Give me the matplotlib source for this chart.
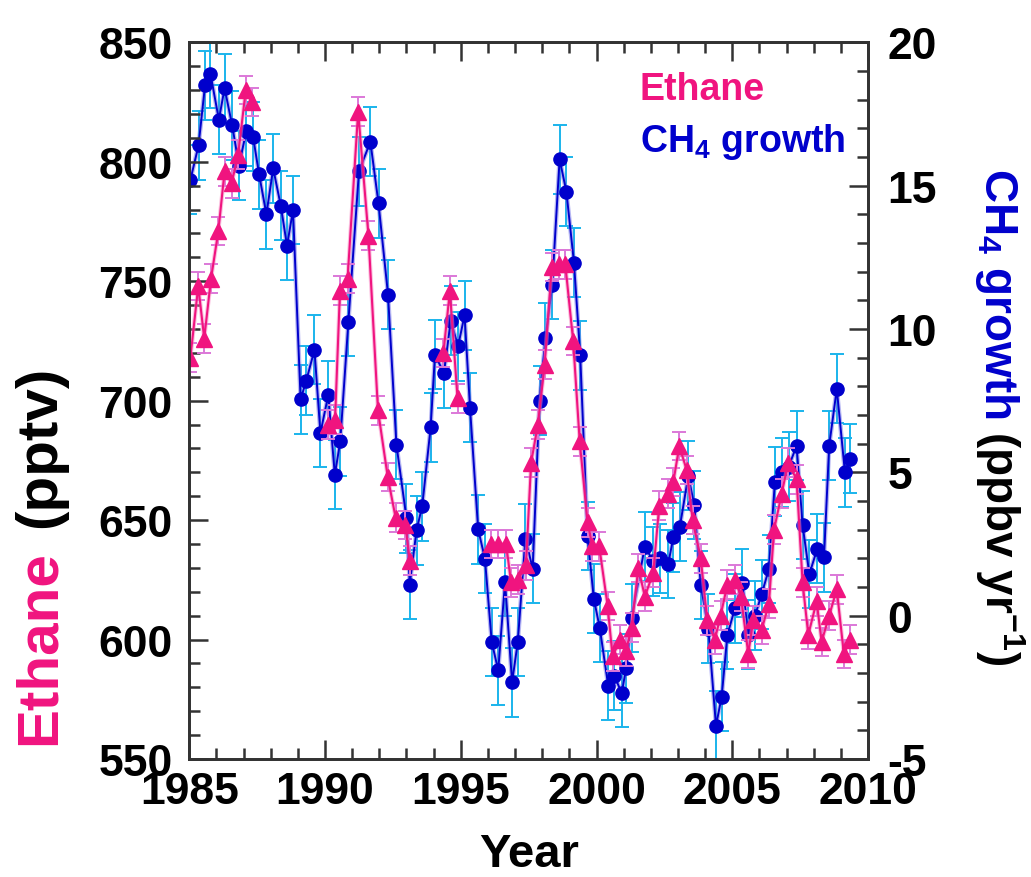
import numpy as np
import matplotlib.pyplot as plt
from matplotlib.ticker import MultipleLocator

plt.rcParams['font.family'] = ['Liberation Sans', 'DejaVu Sans']
plt.rcParams['font.weight'] = 'bold'
plt.rcParams['mathtext.fontset'] = 'custom'
plt.rcParams['mathtext.rm'] = 'Liberation Sans:bold'
plt.rcParams['mathtext.bf'] = 'Liberation Sans:bold'
plt.rcParams['axes.unicode_minus'] = False

# ethane (pptv), nan = gap in the record
eth_year = [1985.04, 1985.33, 1985.55, 1985.80, 1986.07, 1986.30, 1986.56, 1986.80,
            1987.08, 1987.30, 1988.70,
            1990.12, 1990.37, 1990.55, 1990.83, 1991.22, 1991.60, 1991.95, 1992.31,
            1992.60, 1992.96, 1993.12, 1993.70,
            1994.36, 1994.60, 1994.88, 1995.50,
            1996.11, 1996.36, 1996.67, 1996.85, 1997.10, 1997.40, 1997.59, 1997.84,
            1998.09, 1998.35, 1998.60, 1998.85, 1999.14, 1999.38, 1999.67, 1999.85,
            2000.10, 2000.41, 2000.59, 2000.88, 2001.08, 2001.29, 2001.54, 2001.78,
            2002.09, 2002.31, 2002.62, 2002.83, 2003.05, 2003.32, 2003.54, 2003.84,
            2004.08, 2004.36, 2004.57, 2004.82, 2005.10, 2005.32, 2005.59, 2005.77,
            2006.08, 2006.35, 2006.54, 2006.82, 2007.06, 2007.37, 2007.59, 2007.80,
            2008.11, 2008.29, 2008.57, 2008.85, 2009.11, 2009.34]
eth_pptv = [718, 748, 726, 751, 771, 796, 791, 803,
            830, 825, np.nan,
            690, 692, 746, 751, 821, 769, 696, 668,
            651, 648, 633, np.nan,
            720, 746, 701, np.nan,
            640, 640, 640, 624, 625, 631, 674, 690,
            715, 756, 757, 757, 725, 683, 649, 639,
            639, 614, 593, 600, 595, 605, 630, 618,
            628, 656, 661, 666, 681, 671, 650, 634,
            608, 600, 610, 623, 625, 618, 594, 608,
            604, 615, 646, 661, 674, 667, 624, 602,
            616, 599, 610, 621, 594, 600]
eth_err = 6.0

# CH4 growth rate (ppbv/yr)
ch4_year = [1985.04, 1985.34, 1985.58, 1985.78, 1986.09, 1986.30, 1986.58, 1986.83,
            1987.10, 1987.35, 1987.57, 1987.84, 1988.09, 1988.37, 1988.60, 1988.82,
            1989.10, 1989.31, 1989.61, 1989.83, 1990.12, 1990.36, 1990.56, 1990.86,
            1991.25, 1991.67, 1991.97, 1992.32, 1992.63, 1993.00, 1993.12, 1993.37,
            1993.58, 1993.89, 1994.05, 1994.38, 1994.63, 1994.90, 1995.14, 1995.34,
            1995.64, 1995.89, 1996.14, 1996.38, 1996.63, 1996.89, 1997.10, 1997.38,
            1997.65, 1997.90, 1998.12, 1998.37, 1998.64, 1998.89, 1999.17, 1999.40,
            1999.67, 1999.90, 2000.12, 2000.43, 2000.65, 2000.93, 2001.09, 2001.29,
            2001.78, 2002.09, 2002.34, 2002.64, 2002.83, 2003.07, 2003.38, 2003.60,
            2003.84, 2004.12, 2004.40, 2004.61, 2004.82, 2005.10, 2005.37, 2005.59,
            2005.84, 2006.08, 2006.35, 2006.57, 2006.82, 2007.08, 2007.37, 2007.59,
            2007.84, 2008.13, 2008.38, 2008.57, 2008.85, 2009.15, 2009.34]
ch4_growth = [15.2, 16.4, 18.5, 18.9, 17.3, 18.4, 17.1, 15.7,
              16.9, 16.7, 15.4, 14.0, 15.6, 14.3, 12.9, 14.15,
              7.55, 8.2, 9.27, 6.37, 7.7, 4.91, 6.08, 10.25,
              15.5, 16.53, 14.38, 11.2, 5.96, 3.4, 1.08, 2.98,
              3.82, 6.57, 9.1, 8.46, 10.29, 9.4, 10.48, 7.26,
              3.01, 1.99, -0.92, -1.91, 1.18, -2.32, -0.92, 2.69,
              1.64, 7.5, 9.69, 11.55, 15.92, 14.79, 12.31, 9.08,
              2.78, 0.59, -0.43, -2.44, -2.09, -2.7, -1.83, -0.08,
              2.41, 1.9, 2.0, 1.8, 2.73, 3.1, 4.88, 3.86,
              1.07, -0.46, -3.84, -2.83, -0.67, 0.26, 1.14, -0.67,
              0.0, 0.74, 1.63, 4.67, 5.0, 5.2, 5.93, 3.16,
              1.45, 2.33, 2.03, 5.93, 7.91, 5.0, 5.47]
ch4_err = 1.2

pink = '#F0147F'
pink_err = '#DC78D8'
blue = '#0000CC'
blue_err = '#1AB4EC'

fig = plt.figure(figsize=(10.31, 8.78), dpi=100)
ax = fig.add_axes([0.1836, 0.1344, 0.6583, 0.8163])
ax2 = ax.twinx()

# CH4 on the right axis
ax2.errorbar(ch4_year, ch4_growth, yerr=ch4_err, fmt='none', ecolor=blue_err,
             elinewidth=1.4, capsize=5, capthick=1.4)
ax2.plot(ch4_year, ch4_growth, '-', color='#7070E8', lw=3.2, alpha=0.5)
ax2.plot(ch4_year, ch4_growth, '-o', color=blue, lw=1.4, ms=9.5)

# ethane on the left axis, drawn on top
ax.errorbar(eth_year, eth_pptv, yerr=eth_err, fmt='none', ecolor=pink_err,
            elinewidth=1.4, capsize=5, capthick=1.4)
ax.plot(eth_year, eth_pptv, '-', color='#F880C0', lw=3, alpha=0.5)
ax.plot(eth_year, eth_pptv, '-^', color=pink, lw=1.5, ms=11.5)
ax.set_zorder(ax2.get_zorder() + 1)
ax.patch.set_visible(False)

ax.set_xlim(1985, 2010)
ax.set_ylim(550, 850)
ax2.set_ylim(-5, 20)
ax.xaxis.set_major_locator(MultipleLocator(5))
ax.xaxis.set_minor_locator(MultipleLocator(1))
ax.yaxis.set_major_locator(MultipleLocator(50))
ax.yaxis.set_minor_locator(MultipleLocator(10))
ax2.yaxis.set_major_locator(MultipleLocator(5))
ax2.yaxis.set_minor_locator(MultipleLocator(1))

ax.tick_params(which='both', direction='in', top=True, right=False, width=1.8, color='#333333')
ax.tick_params(which='major', length=14)
ax.tick_params(which='minor', length=8)
ax.tick_params(axis='y', labelsize=32, pad=12)
ax.tick_params(axis='x', labelsize=32, pad=9)
ax2.tick_params(which='both', direction='in', width=1.8, color='#333333', labelsize=32, pad=14)
ax2.tick_params(which='major', length=14)
ax2.tick_params(which='minor', length=8)
for a in (ax, ax2):
    for s in a.spines.values():
        s.set_linewidth(2)
        s.set_color('#333333')

ax.set_xlabel('Year', fontsize=34, fontweight='bold', labelpad=14)

# legend as coloured text
ax.text(0.664, 0.935, 'Ethane', transform=ax.transAxes, color=pink, fontsize=27,
        ha='left', va='center')
ax.text(0.664, 0.862, r'CH$_\mathrm{4}$ growth', transform=ax.transAxes, color=blue,
        fontsize=27, ha='left', va='center')

# two-colour axis labels
W, H = 1031, 878
fig.canvas.draw()
r = fig.canvas.get_renderer()
fig.text(40 / W, (H - 745) / H, 'Ethane', rotation=90, ha='center', va='bottom',
         color=pink, fontsize=42)
fig.text(40 / W, (H - 528) / H, '(pptv)', rotation=90, ha='center', va='bottom',
         color='black', fontsize=42)

t2 = fig.text(997 / W, (H - 168) / H, r'CH$_\mathrm{4}$ growth', rotation=270,
              ha='center', va='top', color=blue, fontsize=33)
bb = t2.get_window_extent(r)
fig.text(1000 / W, (bb.y0 - 12) / H, r'(ppbv yr$^\mathrm{-1}$)', rotation=270,
         ha='center', va='top', color='black', fontsize=33)

fig.savefig('out.png', dpi=100)
